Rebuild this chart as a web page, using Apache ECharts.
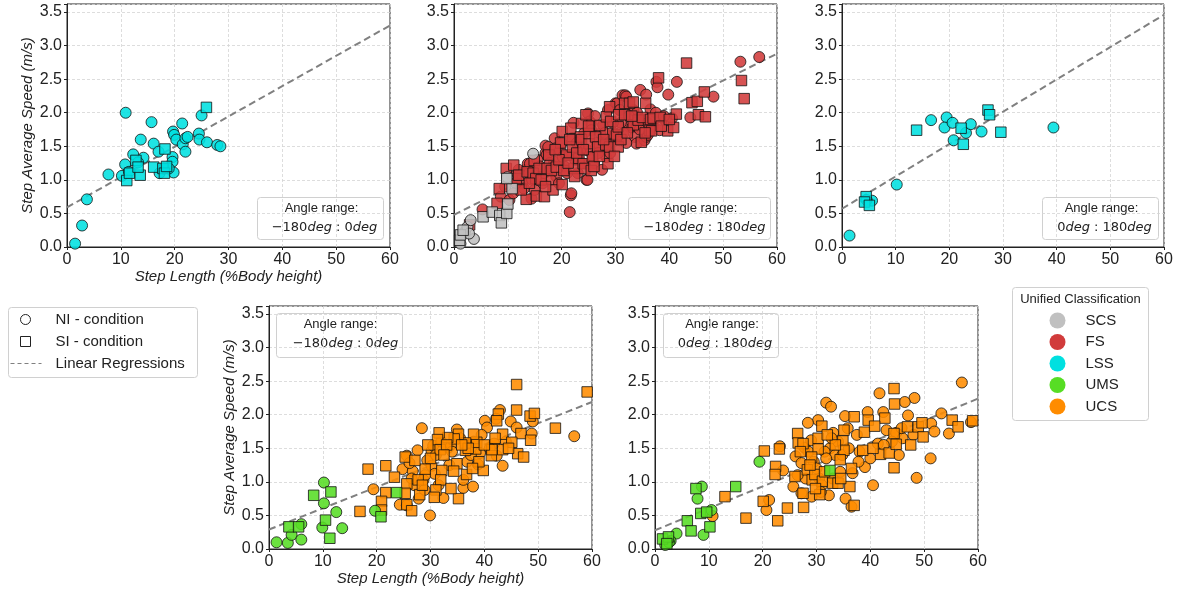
<!DOCTYPE html>
<html>
<head>
<meta charset="utf-8">
<script src="https://cdn.jsdelivr.net/npm/echarts@6/dist/echarts.min.js"></script>
<style>
  html, body { margin: 0; padding: 0; background: #fff; }
  #chart { width: 1183px; height: 593px; }
</style>
</head>
<body>
<div id="chart"></div>
<script>
// class colours
const COLORS = { SCS: '#c0c0c0', FS: '#d13b3b', LSS: '#00e0e0', UMS: '#57dd24', UCS: '#ff8c00' }
const CLASSES = ['SCS', 'FS', 'LSS', 'UMS', 'UCS']
const X_TICKS = [0, 10, 20, 30, 40, 50, 60]
const Y_TICKS = [0, 0.5, 1, 1.5, 2, 2.5, 3, 3.5]

// panel 1: LSS, angle -180:0
const lssNegNI = [[1.5,0.05],[2.8,0.32],[3.7,0.71],[7.7,1.08],[10.9,2.0],[10.2,1.06],[10.8,1.23],[12.3,1.38],[13.7,1.6],[14.2,1.33],
  [15.7,1.86],[16.1,1.54],[17.0,1.42],[17.2,1.10],[19.6,1.34],[19.7,1.72],[19.6,1.27],[19.8,1.11],[19.9,1.67],[20.3,1.60],
  [21.4,1.84],[21.5,1.53],[22.0,1.42],[22.0,1.62],[22.4,1.64],[24.5,1.69],[24.6,1.60],[25.0,1.96],[26.0,1.56],[27.9,1.52],
  [28.5,1.50],[18.0,1.17],[18.9,1.17],[11.5,1.12],[13.2,1.26]]
const lssNegSI = [[25.9,2.08],[11.1,0.99],[11.6,1.10],[12.8,1.29],[13.6,1.07],[13.2,1.19],[16.1,1.19],[18.2,1.46],[17.8,1.17],[18.1,1.10],[18.5,1.20]]

// panel 2: SCS + FS, angle -180:180
const scsAllNI = [[1.2,0.05],[2.0,0.22],[2.5,0.30],[3.1,0.40],[3.7,0.12],[2.8,0.20],[9.9,1.04],[14.7,1.39]]
const scsAllSI = [[1.05,0.10],[1.2,0.18],[1.7,0.25],[5.4,0.45],[7.1,0.52],[8.5,0.47],[8.8,0.36],[9.8,0.50],[10.0,0.64],[10.8,0.87],[9.8,1.02]]
const fsAllNI = [[5.3,0.56],[21.5,0.52],[21.7,0.77],[8.7,0.75],[10.3,0.70],[10.8,1.05],[12.7,0.95],[13.4,1.15],[13.0,0.87],[13.7,1.24],
  [13.9,1.10],[14.1,1.24],[14.4,0.72],[16.5,0.95],[16.8,1.10],[17.0,1.40],[17.0,1.51],[17.2,1.37],[17.5,1.49],[18.6,1.27],
  [18.7,1.62],[18.9,1.47],[19.7,1.44],[20.2,1.34],[21.5,1.37],[22.0,1.62],[21.8,0.80],[24.6,1.00],[24.8,1.00],[24.8,1.44],
  [24.9,1.99],[25.2,1.87],[25.4,1.84],[25.5,1.74],[27.1,1.44],[27.2,1.69],[27.7,1.82],[28.3,1.34],[29.8,1.67],[30.0,2.14],
  [28.6,2.04],[30.3,2.14],[30.8,2.04],[31.3,2.26],[31.8,2.26],[32.0,2.24],[32.6,1.79],[33.1,1.78],[33.3,2.04],[33.6,1.64],
  [33.9,1.54],[33.9,1.80],[34.6,2.34],[35.4,1.59],[35.7,1.64],[35.7,2.27],[36.0,1.67],[37.0,1.79],[37.6,2.46],[37.8,2.38],
  [38.2,1.74],[39.2,1.89],[39.8,2.27],[40.5,1.92],[41.4,2.46],[43.9,1.93],[48.2,2.24],[53.2,2.76],[56.7,2.83],[11.5,0.95],
  [15.5,1.30],[19.0,1.05],[20.5,1.20],[23.0,1.10],[23.5,1.45],[26.0,1.25],[26.5,1.55],[29.0,1.40],[30.5,1.60],[31.0,1.85],
  [34.0,2.00],[36.5,2.05],[12.0,1.15],[18.0,1.00],[22.5,1.30],[25.8,1.35],[28.0,1.70],[32.0,1.55],[35.0,1.90],
  [14.5,1.00],[16.0,1.20],[17.8,1.25],[19.5,0.95],[20.0,1.55],[21.0,1.10],[22.8,1.55],[23.8,1.25],[24.2,1.70],[26.8,1.40],
  [27.5,1.15],[28.8,1.55],[29.5,1.85],[31.5,1.70],[32.5,1.95],[34.5,1.75],[36.0,1.85],[37.5,2.00],[39.0,1.95],[26.2,1.95],
  [22.2,1.85],[15.0,0.85],[11.0,0.80],[9.5,0.90]]
const fsAllSI = [[2.9,0.33],[8.0,0.65],[8.4,0.87],[9.7,1.17],[11.1,1.22],[11.6,1.02],[12.0,1.07],[13.4,0.71],[13.6,1.12],[14.7,1.10],
  [14.9,1.29],[15.2,1.02],[15.3,0.76],[15.8,1.17],[16.8,0.75],[17.3,1.17],[17.6,1.37],[18.1,1.14],[18.4,0.85],[19.0,1.19],
  [20.1,0.93],[20.1,1.72],[20.4,1.14],[20.9,1.37],[21.7,1.77],[22.0,1.49],[22.3,1.17],[22.4,1.05],[23.2,1.32],[23.5,1.64],
  [23.7,1.84],[23.7,1.60],[24.0,1.24],[24.3,1.17],[24.5,1.97],[25.1,1.54],[25.1,1.69],[25.5,1.14],[25.7,1.34],[26.3,1.64],
  [26.7,1.49],[27.1,1.81],[28.2,1.52],[28.3,1.94],[28.6,1.24],[28.9,1.49],[28.9,2.09],[29.1,1.87],[29.5,1.69],[30.2,1.67],
  [30.5,1.79],[30.5,1.49],[30.6,1.97],[31.7,1.97],[31.7,2.14],[32.6,2.14],[33.3,2.16],[33.3,1.82],[34.2,1.89],[34.8,1.56],
  [35.0,1.93],[35.6,2.14],[36.3,1.74],[36.5,1.90],[36.7,1.73],[37.0,1.92],[38.0,2.52],[38.3,1.93],[39.7,1.73],[40.8,1.78],
  [41.3,1.98],[43.2,2.74],[44.2,2.15],[45.2,2.17],[45.4,1.97],[46.5,2.31],[46.7,1.94],[53.4,2.48],[53.9,2.21],
  [12.5,0.85],[14.0,0.95],[16.2,1.00],[17.0,0.90],[19.5,1.30],[21.2,1.25],[22.8,1.40],[24.0,1.45],[25.0,1.80],[26.0,1.20],
  [27.0,1.35],[27.8,1.60],[29.8,1.35],[31.0,1.60],[32.2,1.70],[33.0,1.95],[35.5,1.70],[38.5,1.80],[40.0,1.90],[19.8,1.55],
  [21.5,1.60],[18.8,1.45]]

// panel 3: LSS, angle 0:180
const lssPosNI = [[1.4,0.17],[5.6,0.69],[4.6,0.70],[10.2,0.93],[16.6,1.89],[19.5,1.93],[19.1,1.78],[20.6,1.85],[20.8,1.59],[23.1,1.70],
  [24.0,1.83],[26.0,1.72],[39.4,1.78]]
const lssPosSI = [[13.9,1.74],[22.2,1.77],[22.6,1.53],[27.2,2.04],[27.5,1.97],[29.6,1.71],[4.5,0.75],[4.2,0.67],[5.1,0.62]]

// panel 4: UMS + UCS, angle -180:0
const umsNegNI = [[1.4,0.10],[3.5,0.09],[4.2,0.21],[6.0,0.14],[6.0,0.37],[10.2,0.99],[10.2,0.68],[9.9,0.32],[12.5,0.55],[13.6,0.31],[19.7,0.57]]
const umsNegSI = [[3.7,0.33],[5.5,0.33],[8.3,0.80],[11.5,0.85],[10.5,0.43],[11.3,0.16],[20.8,0.48],[23.7,0.84]]
const ucsNegNI = [[28.4,1.80],[27.6,1.47],[24.8,1.19],[19.4,0.89],[24.3,0.66],[29.9,0.50],[26.7,1.16],[29.4,1.32],[30.2,1.46],[30.5,1.54],
  [32.4,0.76],[36.1,0.91],[37.9,0.93],[38.8,1.26],[43.4,1.24],[40.1,1.91],[40.5,1.81],[42.9,2.07],[42.2,1.94],[44.9,1.90],
  [46.0,1.81],[48.8,1.72],[49.0,1.90],[56.7,1.68],[34.9,1.78],[33.3,1.51],[37.3,1.56],[39.2,1.43],[42.3,1.39],[41.8,1.57],
  [25.6,1.39],[26.1,1.28],[28.9,0.88],[28.7,1.03],[30.2,1.24],[36.1,1.03],[31.0,1.40],[35.5,1.65],[27.0,0.95],[30.8,1.12],
  [33.8,1.55],[38.0,1.60],[25.6,0.65],[32.0,1.60],[34.0,1.45],[36.8,1.30],[39.5,1.70],[41.0,1.50],[44.0,1.60],[29.0,1.10],
  [27.8,0.75],[31.5,0.95],[33.5,1.25],[37.5,1.40],[26.5,1.05]]
const ucsNegSI = [[46.0,2.45],[59.1,2.34],[46.0,2.07],[48.5,1.98],[49.3,2.02],[42.6,2.01],[42.3,1.91],[53.2,1.80],[43.4,1.71],[46.8,1.72],
  [48.6,1.62],[45.1,1.59],[43.4,1.48],[46.2,1.42],[47.3,1.37],[41.3,1.39],[41.4,1.48],[39.8,1.17],[38.4,1.49],[38.6,1.59],
  [38.0,1.71],[36.5,1.47],[36.5,1.58],[35.2,1.71],[34.4,1.64],[33.2,1.66],[31.6,1.73],[31.3,1.63],[31.8,1.48],[34.9,1.27],
  [34.3,1.16],[36.7,1.11],[32.1,1.17],[31.9,1.03],[31.0,0.88],[30.7,0.77],[28.0,0.81],[35.2,0.75],[29.0,1.19],[27.7,1.03],
  [25.6,0.97],[25.3,0.83],[25.6,0.66],[26.5,0.57],[25.3,1.37],[27.1,1.32],[23.3,1.07],[21.7,1.24],[18.4,1.19],[21.7,0.84],
  [20.9,0.71],[20.9,0.58],[16.9,0.56],[40.0,1.55],[37.0,1.50],[33.0,1.55],[30.0,1.35],[32.5,1.40],[35.8,1.55],[39.0,1.30],
  [42.0,1.65],[44.5,1.50],[28.5,0.95],[33.8,0.90],[29.5,1.55],[37.8,1.20]]

// panel 5: UMS + UCS, angle 0:180
const umsPosNI = [[19.4,1.30],[8.7,0.93],[7.9,0.75],[10.5,0.58],[9.0,0.21],[4.0,0.23],[2.9,0.12],[1.9,0.06],[2.6,0.10]]
const umsPosSI = [[7.6,0.90],[8.5,0.53],[9.6,0.55],[6.0,0.42],[6.7,0.27],[10.2,0.33],[15.0,0.93],[32.5,1.17],[1.4,0.15],[2.5,0.18],[2.2,0.08]]
const ucsPosNI = [[57.0,2.48],[41.7,2.32],[31.8,2.18],[32.7,2.12],[48.2,2.25],[46.4,2.19],[53.2,2.02],[47.0,1.99],[42.4,2.04],[39.5,2.04],
  [35.3,1.98],[30.3,1.92],[28.4,1.88],[51.3,1.87],[51.9,1.75],[54.6,1.72],[58.7,1.89],[41.4,1.57],[43.0,1.77],[44.8,1.73],
  [45.3,1.40],[51.2,1.35],[48.6,1.06],[40.5,0.95],[39.0,1.22],[36.7,1.13],[35.4,0.75],[36.5,0.63],[32.3,0.80],[34.4,1.15],
  [32.5,1.50],[23.8,1.17],[23.2,1.53],[26.1,1.38],[27.8,1.51],[27.2,1.28],[25.7,0.93],[27.2,0.83],[29.1,0.78],[20.7,0.58],
  [21.2,0.73],[33.1,1.73],[10.7,0.49],[29.5,1.30],[31.5,1.45],[33.5,1.40],[30.5,1.05],[34.0,1.60],[37.5,1.70],[29.0,1.62],
  [31.0,0.95],[44.0,1.60],[46.0,1.65],[38.0,1.45],[28.0,1.05],[30.0,1.20],[31.8,1.35],[33.0,1.05],[34.8,1.40],[36.0,1.50],
  [28.5,1.45],[26.5,1.10],[30.8,0.85],[32.8,1.65],[35.8,1.80],[37.8,1.30],[40.0,1.35],[42.5,1.55],[45.8,1.80],[48.0,1.70]]
const ucsPosSI = [[44.4,2.39],[44.5,2.16],[37.0,1.97],[39.6,1.92],[42.7,1.95],[46.9,1.82],[48.9,1.82],[49.6,1.88],[55.2,1.92],[56.3,1.82],
  [59.0,1.91],[49.8,1.67],[44.4,1.72],[38.9,1.74],[40.8,1.83],[35.1,1.77],[31.0,1.83],[26.5,1.72],[26.6,1.58],[30.3,1.65],
  [34.9,1.61],[35.1,1.47],[30.3,1.49],[27.5,1.57],[38.6,1.47],[41.9,1.41],[43.5,1.43],[44.8,1.56],[20.3,1.46],[23.1,1.49],
  [29.1,1.37],[34.4,1.33],[22.4,1.23],[22.3,1.11],[26.0,1.08],[28.3,1.18],[29.2,1.03],[29.7,1.11],[31.1,1.01],[33.0,0.98],
  [34.0,0.98],[36.2,0.93],[30.6,0.81],[27.5,0.83],[24.6,0.61],[27.6,0.62],[22.8,0.42],[20.1,0.71],[37.0,0.65],[44.4,1.21],
  [16.9,0.46],[13.0,0.78],[28.8,1.25],[31.5,1.15],[33.5,1.55],[29.8,0.90],[32.0,1.70],[36.5,1.20],[40.5,1.50],[47.5,1.55],
  [27.0,1.45],[34.5,1.05]]

// linear regression end points per panel
const reg1 = [[0, 0.59], [60, 3.30]]
const reg2 = [[0, 0.48], [60, 2.88]]
const reg3 = [[0, 0.57], [60, 3.46]]
const reg4 = [[0, 0.29], [60, 2.19]]
const reg5 = [[0, 0.28], [60, 2.24]]

const ANGLE_RANGES = [['\u2212180', '0'], ['\u2212180', '180'], ['0', '180'], ['\u2212180', '0'], ['0', '180']]

const FONT = '"Liberation Sans", Arial, sans-serif'
const INK = '#222'

const GRIDS = [
  { left: 67, top: 4, width: 323, height: 243 },
  { left: 454, top: 4, width: 323, height: 243 },
  { left: 842, top: 4, width: 322, height: 243 },
  { left: 269, top: 306, width: 323, height: 243 },
  { left: 655, top: 306, width: 323, height: 243 }
]
const NAMED = [0, 3]

const chart = echarts.init(document.getElementById('chart'))

const splitLine = { show: true, lineStyle: { color: '#d4d4d4', type: [3, 2], width: 0.8 } }

const xAxes = GRIDS.map((g, i) => ({
  gridIndex: i,
  type: 'value',
  min: X_TICKS[0],
  max: X_TICKS[X_TICKS.length - 1],
  interval: 10,
  name: NAMED.includes(i) ? 'Step Length (%Body height)' : '',
  nameLocation: 'middle',
  nameGap: 22,
  nameTextStyle: { fontFamily: FONT, fontStyle: 'italic', fontSize: 15, color: INK },
  axisLine: { show: true, lineStyle: { color: INK, width: 1 } },
  axisTick: { show: true, length: 3, lineStyle: { color: INK } },
  axisLabel: { fontFamily: FONT, fontSize: 16, color: INK, margin: 5 },
  splitLine
}))

const yAxes = GRIDS.map((g, i) => ({
  gridIndex: i,
  type: 'value',
  min: 0,
  max: 3.62,
  interval: 0.5,
  name: NAMED.includes(i) ? 'Step Average Speed (m/s)' : '',
  nameLocation: 'middle',
  nameGap: 32,
  nameTextStyle: { fontFamily: FONT, fontStyle: 'italic', fontSize: 15, color: INK },
  axisLine: { show: true, lineStyle: { color: INK, width: 1 } },
  axisTick: { show: true, length: 3, lineStyle: { color: INK } },
  axisLabel: {
    fontFamily: FONT, fontSize: 16, color: INK, margin: 5,
    formatter: (v) => (Y_TICKS.some((t) => Math.abs(t - v) < 1e-6) ? v.toFixed(1) : '')
  },
  splitLine
}))

function regLine(data, i) {
  return {
    type: 'line', xAxisIndex: i, yAxisIndex: i, data, showSymbol: false, silent: true, z: 1,
    lineStyle: { color: '#808080', width: 2, type: [7, 4] }
  }
}

function scatter(cls, data, i, symbol) {
  return {
    name: cls, type: 'scatter', xAxisIndex: i, yAxisIndex: i, data,
    symbol: symbol === 'square' ? 'rect' : 'circle',
    symbolSize: symbol === 'square' ? 10.5 : 11,
    z: 2,
    itemStyle: { color: COLORS[cls], borderColor: '#111', borderWidth: 0.9, opacity: 0.88 }
  }
}

const series = [
  regLine(reg1, 0), regLine(reg2, 1), regLine(reg3, 2), regLine(reg4, 3), regLine(reg5, 4),
  scatter('LSS', lssNegNI, 0, 'circle'), scatter('LSS', lssNegSI, 0, 'square'),
  scatter('FS', fsAllNI, 1, 'circle'), scatter('FS', fsAllSI, 1, 'square'),
  scatter('SCS', scsAllNI, 1, 'circle'), scatter('SCS', scsAllSI, 1, 'square'),
  scatter('LSS', lssPosNI, 2, 'circle'), scatter('LSS', lssPosSI, 2, 'square'),
  scatter('UCS', ucsNegNI, 3, 'circle'), scatter('UCS', ucsNegSI, 3, 'square'),
  scatter('UMS', umsNegNI, 3, 'circle'), scatter('UMS', umsNegSI, 3, 'square'),
  scatter('UCS', ucsPosNI, 4, 'circle'), scatter('UCS', ucsPosSI, 4, 'square'),
  scatter('UMS', umsPosNI, 4, 'circle'), scatter('UMS', umsPosSI, 4, 'square')
]

// "Angle range" boxes
const BOXES = [
  { x: 257, y: 197, w: 126, h: 42, dx: 4 },
  { x: 628, y: 197, w: 142, h: 42, dx: 5 },
  { x: 1042, y: 197, w: 116, h: 42, dx: 4 },
  { x: 276, y: 313, w: 126, h: 44, dx: 6 },
  { x: 663, y: 313, w: 115, h: 44, dx: 4 }
]

const mathRich = {
  n: { fontFamily: '"DejaVu Sans"', fontSize: 13, fill: INK },
  i: { fontFamily: '"DejaVu Sans"', fontStyle: 'italic', fontSize: 13, fill: INK }
}

const graphic = []
BOXES.forEach((b, k) => {
  const [a, c] = ANGLE_RANGES[k]
  graphic.push({
    type: 'group', left: b.x, top: b.y, z: 50,
    children: [
      { type: 'rect', shape: { x: 0, y: 0, width: b.w, height: b.h, r: 3 },
        style: { fill: 'rgba(255,255,255,0.85)', stroke: '#d0d0d0', lineWidth: 1 } },
      { type: 'text', x: b.w / 2 + 1, y: 11,
        style: { text: 'Angle range:', font: '13px "Liberation Sans", Arial', fill: INK, textAlign: 'center', textVerticalAlign: 'middle' } },
      { type: 'text', x: b.w / 2 + b.dx, y: 30,
        style: { text: `{n|${a}}{i|deg}{n| : ${c}}{i|deg}`, rich: mathRich, textAlign: 'center', textVerticalAlign: 'middle' } }
    ]
  })
})

// marker legend (left)
graphic.push({
  type: 'group', left: 8, top: 307, z: 50,
  children: [
    { type: 'rect', shape: { x: 0, y: 0, width: 189, height: 70, r: 3 }, style: { fill: '#fff', stroke: '#d0d0d0', lineWidth: 1 } },
    { type: 'circle', shape: { cx: 17, cy: 12, r: 5 }, style: { fill: '#fff', stroke: INK, lineWidth: 1 } },
    { type: 'rect', shape: { x: 12, y: 29, width: 10, height: 10 }, style: { fill: '#fff', stroke: INK, lineWidth: 1 } },
    { type: 'line', shape: { x1: 2, y1: 56, x2: 33, y2: 56 }, style: { stroke: '#808080', lineWidth: 1, lineDash: [4, 3] } },
    { type: 'text', x: 47, y: 12, style: { text: 'NI - condition', font: '15px "Liberation Sans", Arial', fill: INK, textVerticalAlign: 'middle' } },
    { type: 'text', x: 47, y: 34, style: { text: 'SI - condition', font: '15px "Liberation Sans", Arial', fill: INK, textVerticalAlign: 'middle' } },
    { type: 'text', x: 47, y: 56, style: { text: 'Linear Regressions', font: '15px "Liberation Sans", Arial', fill: INK, textVerticalAlign: 'middle' } }
  ]
})

// class legend (right)
const classChildren = [
  { type: 'rect', shape: { x: 0, y: 0, width: 136, height: 133, r: 3 }, style: { fill: '#fff', stroke: '#d0d0d0', lineWidth: 1 } },
  { type: 'text', x: 68, y: 12, style: { text: 'Unified Classification', font: '13px "Liberation Sans", Arial', fill: INK, textAlign: 'center', textVerticalAlign: 'middle' } }
]
CLASSES.forEach((c, k) => {
  const cy = 33 + k * 21.5
  classChildren.push({ type: 'circle', shape: { cx: 45, cy, r: 8 }, style: { fill: COLORS[c] } })
  classChildren.push({ type: 'text', x: 73, y: cy, style: { text: c, font: '15px "Liberation Sans", Arial', fill: INK, textVerticalAlign: 'middle' } })
})
graphic.push({ type: 'group', left: 1012, top: 287, z: 50, children: classChildren })

chart.setOption({
  animation: false,
  backgroundColor: '#fff',
  grid: GRIDS.map((g) => ({ ...g, show: true, borderColor: INK, borderWidth: 1, backgroundColor: 'transparent' })),
  xAxis: xAxes,
  yAxis: yAxes,
  series,
  graphic
})
</script>
</body>
</html>
